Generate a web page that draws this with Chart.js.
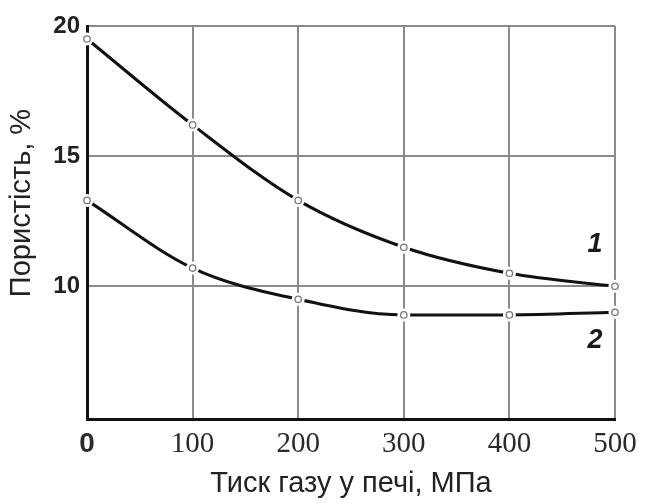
<!DOCTYPE html>
<html>
<head>
<meta charset="utf-8">
<script src="https://cdn.jsdelivr.net/npm/chart.js@4/dist/chart.umd.min.js"></script>
<style>
  html, body { margin: 0; padding: 0; background: #fff; }
  #wrap { width: 646px; height: 504px; }
</style>
</head>
<body>
<div id="wrap"><canvas id="c" width="646" height="504"></canvas></div>
<script>
// Gas pressure in the furnace, MPa
const pressure = [0, 100, 200, 300, 400, 500];
// Porosity, % — curve 1 and curve 2
const porosity1 = [19.5, 16.2, 13.3, 11.5, 10.5, 10.0];
const porosity2 = [13.3, 10.7, 9.5, 8.9, 8.9, 9.0];
// Tick values
const xTicks = [0, 100, 200, 300, 400, 500];
const yTicks = [10, 15, 20];
// Axis titles and curve numbers
const xTitle = 'Тиск газу у печі, МПа';
const yTitle = 'Пористість, %';
const curveNames = ['1', '2'];
const curveNamePos = [{ x: 481, y: 11.6 }, { x: 481, y: 7.9 }];

const pts = vals => pressure.map((p, i) => ({ x: p, y: vals[i] }));

const SANS = '"Liberation Sans", Arial, sans-serif';
const NARROW = '"Liberation Sans Narrow", "Liberation Sans", Arial, sans-serif';
const SERIF = '"Liberation Serif", "Times New Roman", serif';

function curve(vals) {
  return {
    data: pts(vals), order: 3,
    borderColor: '#111', borderWidth: 3, pointRadius: 0,
    cubicInterpolationMode: 'monotone', fill: false
  };
}
function halo(vals) {
  return {
    data: pts(vals), order: 2, showLine: false, clip: false,
    pointRadius: 6.5, pointBackgroundColor: '#fff', pointBorderWidth: 0
  };
}
function marker(vals) {
  return {
    data: pts(vals), order: 1, showLine: false, clip: false,
    pointRadius: 3.2, pointBackgroundColor: '#fff',
    pointBorderColor: '#777', pointBorderWidth: 1.3
  };
}

// Rotated y-axis title and the curve numbers
const annotations = {
  id: 'annotations',
  afterDraw(chart) {
    const { ctx, scales } = chart;
    ctx.save();
    ctx.fillStyle = '#222';
    ctx.textAlign = 'center';
    ctx.textBaseline = 'middle';
    ctx.font = '29px ' + SANS;
    ctx.translate(22, 203);
    ctx.rotate(-Math.PI / 2);
    ctx.fillText(yTitle, 0, 0);
    ctx.restore();

    ctx.save();
    ctx.fillStyle = '#1a1a1a';
    ctx.textAlign = 'center';
    ctx.textBaseline = 'middle';
    ctx.font = 'italic bold 27px ' + SANS;
    curveNames.forEach((t, i) => {
      ctx.fillText(t,
        scales.x.getPixelForValue(curveNamePos[i].x),
        scales.y.getPixelForValue(curveNamePos[i].y));
    });
    ctx.restore();
  }
};

new Chart(document.getElementById('c'), {
  type: 'line',
  data: {
    datasets: [
      marker(porosity1), marker(porosity2),
      halo(porosity1), halo(porosity2),
      curve(porosity1), curve(porosity2)
    ]
  },
  options: {
    responsive: false,
    devicePixelRatio: 1,
    animation: false,
    layout: { padding: { top: 26, right: 31, left: 0, bottom: 0 } },
    plugins: { legend: { display: false }, tooltip: { enabled: false } },
    scales: {
      x: {
        type: 'linear', min: 0, max: 500,
        afterBuildTicks: s => { s.ticks = xTicks.map(v => ({ value: v })); },
        afterFit: s => { s.height = 85; },
        grid: { color: '#8a8a8a', lineWidth: 2, drawTicks: false },
        border: { color: '#111', width: 3 },
        ticks: {
          padding: 8, color: '#2a2a2a',
          font: c => (c.tick && c.tick.value === 0)
            ? { family: NARROW, size: 28, weight: 'bold' }
            : { family: SERIF, size: 29 }
        },
        title: {
          display: true, text: xTitle, color: '#222',
          font: { family: SANS, size: 29 },
          padding: { top: 0, bottom: 3 }
        }
      },
      y: {
        type: 'linear', min: 4.9, max: 20,
        afterBuildTicks: s => { s.ticks = yTicks.map(v => ({ value: v })); },
        afterFit: s => { s.width = 87; },
        grid: { color: '#8a8a8a', lineWidth: 2, drawTicks: false },
        border: { color: '#111', width: 3 },
        ticks: {
          padding: 7, color: '#222',
          font: { family: NARROW, size: 24, weight: 'bold' }
        }
      }
    }
  },
  plugins: [annotations]
});
</script>
</body>
</html>
